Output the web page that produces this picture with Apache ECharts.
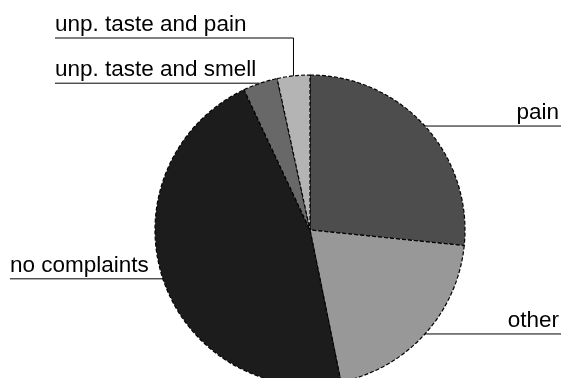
<!DOCTYPE html>
<html>
<head>
<meta charset="utf-8">
<script src="https://cdn.jsdelivr.net/npm/echarts@6/dist/echarts.min.js"></script>
<style>
  html, body { margin: 0; padding: 0; background: #fff; }
  #chart { width: 561px; height: 378px; }
</style>
</head>
<body>
<div id="chart"></div>
<script>
// Complaint categories, clockwise from 12 o'clock
const categories = ['pain', 'other', 'no complaints', 'unp. taste and smell', 'unp. taste and pain'];
// Share of respondents (%)
const shares = [26.6, 20.2, 46.2, 3.6, 3.4];
const sliceColors = ['#4d4d4d', '#989898', '#1c1c1c', '#686868', '#b4b4b4'];

// Where each label sits: which side of the chart, and an optional riser height
const labelSide = ['right', 'right', 'left', 'left', 'left'];
const labelRiseTo = [null, null, null, null, 38];
const leftEdgeX = [null, null, 10, 55, 55];
const RIGHT_EDGE = 561;

const chart = echarts.init(document.getElementById('chart'), null, { renderer: 'canvas' });

chart.setOption({
  backgroundColor: '#fff',
  animation: false,
  series: [{
    type: 'pie',
    center: [310, 230],
    radius: 155,
    startAngle: 90,
    clockwise: true,
    avoidLabelOverlap: false,
    data: categories.map((name, i) => ({
      name: name,
      value: shares[i],
      itemStyle: { color: sliceColors[i] }
    })),
    itemStyle: {
      borderColor: '#000',
      borderWidth: 1.2,
      borderType: [4, 2]
    },
    emphasis: { disabled: true },
    label: {
      show: true,
      position: 'outer',
      formatter: '{b}',
      color: '#000',
      fontFamily: '"Liberation Sans", Arial, sans-serif',
      fontSize: 22.5
    },
    labelLine: {
      show: true,
      length: 10,
      length2: 10,
      lineStyle: { color: '#000', width: 1 }
    },
    labelLayout: function (p) {
      const i = p.dataIndex;
      const edge = p.labelLinePoints[0];
      const lineY = labelRiseTo[i] != null ? labelRiseTo[i] : edge[1];
      if (labelSide[i] === 'right') {
        return {
          x: RIGHT_EDGE - 2,
          y: lineY - 2,
          align: 'right',
          verticalAlign: 'bottom',
          labelLinePoints: [edge, [RIGHT_EDGE, lineY]]
        };
      }
      const pts = [edge];
      if (labelRiseTo[i] != null) pts.push([edge[0], lineY]);
      pts.push([leftEdgeX[i], lineY]);
      return {
        x: leftEdgeX[i],
        y: lineY - 2,
        align: 'left',
        verticalAlign: 'bottom',
        labelLinePoints: pts
      };
    }
  }]
});
</script>
</body>
</html>
